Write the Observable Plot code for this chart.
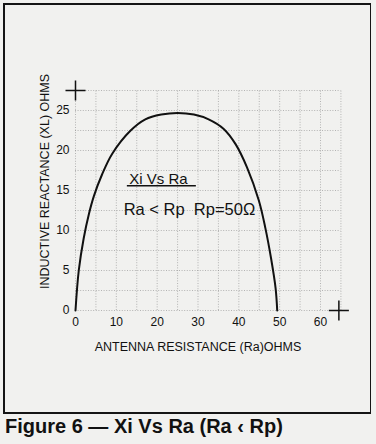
<!DOCTYPE html>
<html>
<head>
<meta charset="utf-8">
<script src="https://cdn.jsdelivr.net/npm/d3@7"></script>
<script src="https://cdn.jsdelivr.net/npm/@observablehq/plot@0.6"></script>
<style>
  html, body { margin: 0; padding: 0; background: #f1f1ef; }
  #page { position: relative; width: 376px; height: 444px; overflow: hidden; background: #f1f1ef; }
  #chart { position: absolute; left: 0; top: 0; }
  #frame { position: absolute; left: 3px; top: 3px; width: 368px; height: 411px; box-sizing: border-box;
           border: 2px solid #151515; border-right-width: 1.5px; pointer-events: none; }
  #caption { position: absolute; left: 5px; top: 415px; font-family: "Liberation Sans", Arial, sans-serif;
             font-weight: bold; font-size: 20px; color: #111; white-space: pre; line-height: normal; }
</style>
</head>
<body>
<div id="page">
  <div id="chart"></div>
  <div id="frame"></div>
  <div id="caption">Figure 6 — Xi Vs Ra (Ra ‹ Rp)</div>
</div>
<script>
// Curve: antenna resistance Ra (ohms) vs inductive reactance XL (ohms)
const ra = [0, 0.8, 2.0, 3.3, 4.5, 6.5, 9, 13.5, 17.1, 21, 25, 29, 32.6, 36.3, 39.2, 42, 44.9, 46.5, 47.9, 49, 49.4];
const xl = [0, 5.0, 9.0, 12.1, 14.3, 17.0, 19.6, 22.5, 23.9, 24.5, 24.7, 24.5, 23.9, 22.7, 20.8, 17.9, 13.75, 10.3, 6.5, 2.8, 0];

// Axis tick labels
const xTicks = [0, 10, 20, 30, 40, 50, 60];
const yTicks = [0, 5, 10, 15, 20, 25];

// Graph-paper grid lines (data units)
const gridX = [0, 5, 10, 15, 20, 25, 30, 35, 40, 45, 50, 55, 60, 65];
const gridY = [0, 2.5, 5, 7.5, 10, 12.5, 15, 17.5, 20, 22.5, 25, 27.5];

// Registration "+" marks (data units)
const regRa = [0, 64.5];
const regXl = [27.5, 0];

// Texts
const xTitle = "ANTENNA RESISTANCE (Ra)OHMS";
const yTitle = "INDUCTIVE REACTANCE (XL) OHMS";
const noteTexts = ["Xi Vs Ra", "Ra < Rp\u00a0\u00a0Rp=50Ω"];
const noteRa = [20.3, 27.9];
const noteXl = [16.4, 12.6];
const noteSize = [15, 16.5];
const underlineRa = [12.7, 29.6];
const underlineXl = 15.6;

const curve = ra.map((r, i) => ({ra: r, xl: xl[i]}));
const regs = regRa.map((r, i) => ({ra: r, xl: regXl[i]}));
const notes = noteTexts.map((t, i) => ({text: t, ra: noteRa[i], xl: noteXl[i], size: noteSize[i]}));

const font = "'Liberation Sans', Arial, sans-serif";
const gridStyle = {stroke: "#8a8a8a", strokeOpacity: 0.6, strokeWidth: 1, strokeDasharray: "1,1.6"};

const chart = Plot.plot({
  width: 376,
  height: 400,
  marginLeft: 75,
  marginRight: 56,
  marginTop: 110,
  marginBottom: 90,
  x: {domain: [0, 60]},
  y: {domain: [0, 25]},
  style: {background: "transparent", fontFamily: font, color: "#111", overflow: "visible"},
  marks: [
    Plot.ruleX(gridX, {x: d => d, y1: gridY[0], y2: gridY[gridY.length - 1], ...gridStyle}),
    Plot.ruleY(gridY, {y: d => d, x1: gridX[0], x2: gridX[gridX.length - 1], ...gridStyle}),
    Plot.axisX(xTicks, {tickSize: 0, tickPadding: 7, fontSize: 12, label: null, tickFormat: d => String(d)}),
    Plot.axisY(yTicks, {tickSize: 0, tickPadding: 6, fontSize: 12, label: null, tickFormat: d => String(d)}),
    Plot.line(curve, {x: "ra", y: "xl", curve: "catmull-rom", stroke: "#111", strokeWidth: 2}),
    Plot.dot(regs, {x: "ra", y: "xl", symbol: "plus", r: 6.5, stroke: "#111", strokeWidth: 1.5}),
    Plot.text([xTitle], {frameAnchor: "bottom", lineAnchor: "middle", dy: 36, fontSize: 12.5, text: d => d, fill: "#111"}),
    Plot.text([yTitle], {frameAnchor: "left", textAnchor: "middle", lineAnchor: "middle", dx: -31, dy: -29, rotate: -90, fontSize: 12.5, text: d => d, fill: "#111"}),
    Plot.text(notes, {x: "ra", y: "xl", text: "text", fontSize: "size", fill: "#111"}),
    Plot.ruleY([underlineXl], {x1: underlineRa[0], x2: underlineRa[1], stroke: "#111", strokeWidth: 1.5})
  ]
});
document.getElementById("chart").appendChild(chart);
</script>
</body>
</html>
